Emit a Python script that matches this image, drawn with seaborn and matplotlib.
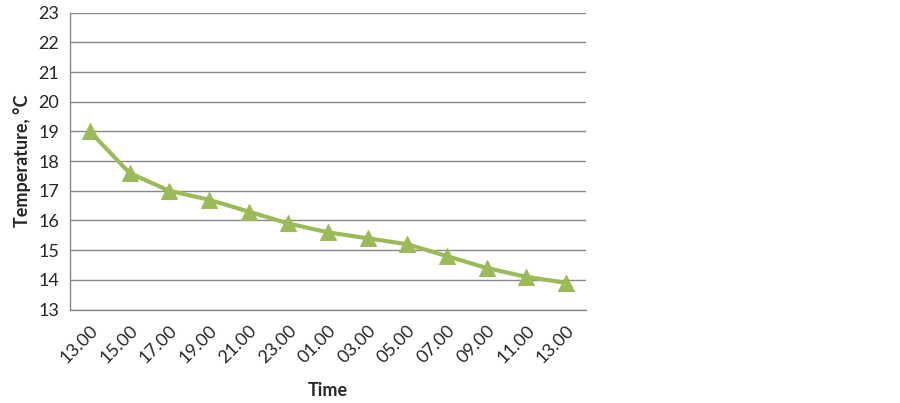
import matplotlib
matplotlib.use("Agg")
import matplotlib.pyplot as plt
import seaborn as sns
import numpy as np
import pandas as pd

# data
time_labels = ["13.00", "15.00", "17.00", "19.00", "21.00", "23.00", "01.00",
               "03.00", "05.00", "07.00", "09.00", "11.00", "13.00"]
temperature = [19.0, 17.6, 17.0, 16.7, 16.3, 15.9, 15.6, 15.4, 15.2, 14.8, 14.4, 14.1, 13.9]

df = pd.DataFrame({"pos": np.arange(len(time_labels)), "temp": temperature})

sns.set_style("white")
plt.rcParams['font.family'] = ['Lato', 'DejaVu Sans']

fig = plt.figure(figsize=(9, 4.03), dpi=100)
ax = fig.add_axes([0.0778, 0.232, 0.573, 0.7365])

grid_col = "#898989"
line_col = "#9BBB59"

sns.lineplot(data=df, x="pos", y="temp", ax=ax, color=line_col, linewidth=3,
             marker="^", markersize=11, markeredgecolor=line_col, zorder=3)

ax.set_ylim(13, 23)
ax.set_yticks(np.arange(13, 24, 1))
ax.set_xlim(-0.5, len(time_labels) - 0.5)
ax.set_xticks(df["pos"])
ax.set_xticklabels(time_labels, rotation=45, ha="right", rotation_mode="anchor")
ax.set_xticks(np.arange(-0.5, len(time_labels), 1), minor=True)

ax.yaxis.grid(True, color=grid_col, linewidth=1)
ax.set_axisbelow(True)

for s in ["top", "right"]:
    ax.spines[s].set_visible(False)
for s in ["left", "bottom"]:
    ax.spines[s].set_color(grid_col)
    ax.spines[s].set_linewidth(1)

ax.tick_params(axis="x", which="major", length=0, labelsize=13, pad=9)
ax.tick_params(axis="x", which="minor", length=5, color=grid_col, direction="out")
ax.tick_params(axis="y", length=5, color=grid_col, direction="out", labelsize=13, pad=3)

ax.set_xlabel("Time", fontsize=13, fontweight="bold", labelpad=12)
ax.set_ylabel("Temperature, °C", fontsize=13, fontweight="bold", labelpad=5)

fig.savefig("out.png", dpi=100)
